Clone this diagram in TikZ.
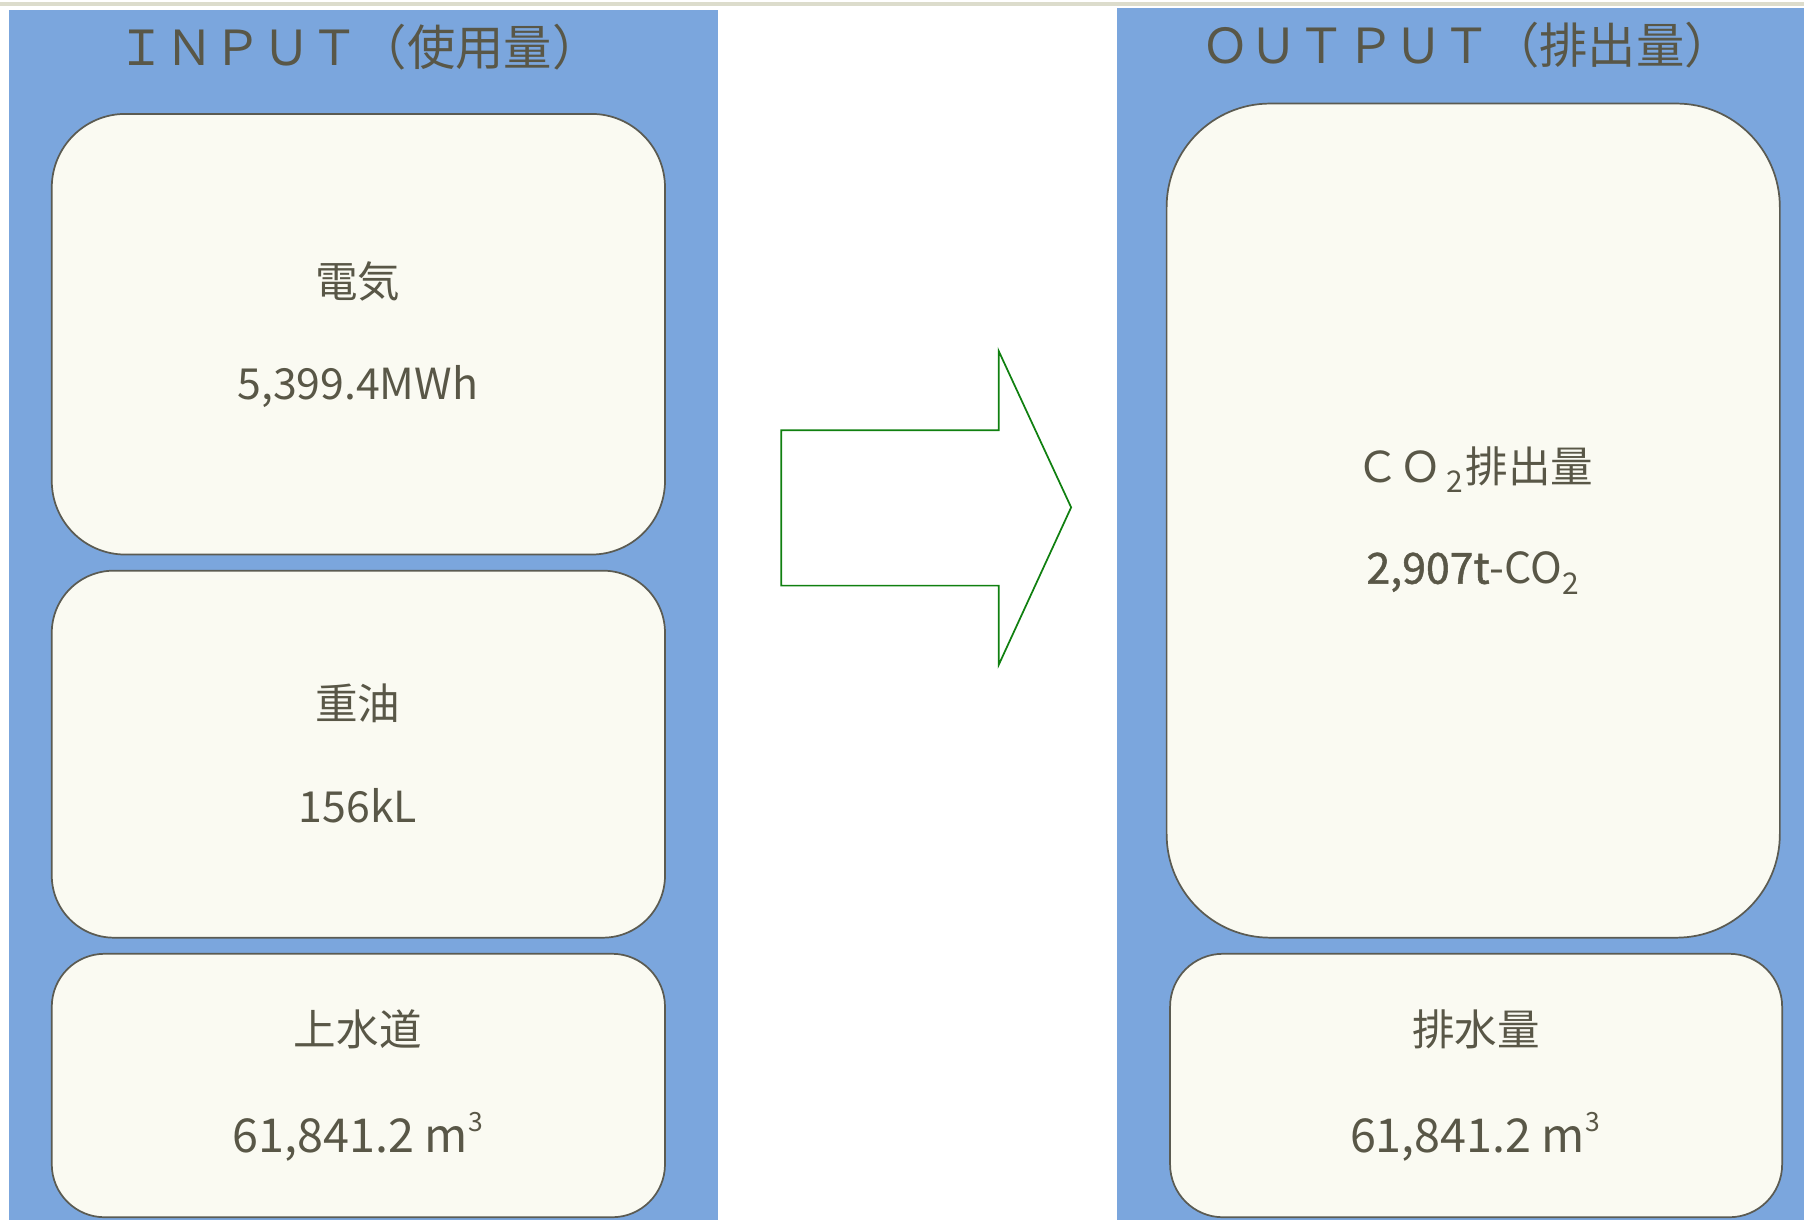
\documentclass[tikz,border=0pt]{standalone}
\usepackage{fontspec}
\setmainfont{Noto Sans CJK JP}
\definecolor{panelblue}{HTML}{7BA6DD}
\definecolor{boxfill}{HTML}{FAFAF2}
\definecolor{boxdraw}{HTML}{5B5B52}
\definecolor{textcol}{HTML}{595747}
\definecolor{arrowgreen}{RGB}{16,128,16}
\definecolor{topgrey}{HTML}{DCDCCC}
\newcommand{\subtwo}{\raisebox{-0.45ex}{\fontsize{13}{13}\selectfont 2}}
\newcommand{\supthree}{\raisebox{0.8ex}{\fontsize{11.5}{12}\selectfont 3}}
\begin{document}
\begin{tikzpicture}[x=0.5pt,y=-0.5pt,
  panel/.style={fill=panelblue},
  card/.style={draw=boxdraw, fill=boxfill, line width=0.75pt, inner sep=0pt},
  title/.style={text=textcol, font=\fontsize{21}{24}\selectfont, inner sep=0pt},
  lbl/.style={text=textcol, font=\fontsize{18.5}{22}\selectfont, inner sep=0pt},
  num/.style={text=textcol, font=\fontsize{18.6}{22}\selectfont, inner sep=0pt},
  bignum/.style={text=textcol, font=\fontsize{20.3}{24}\selectfont, inner sep=0pt},
  bigarrow/.style={draw=arrowgreen, fill=white, line width=0.75pt, line join=miter}
]
\useasboundingbox (0,0) rectangle (1568,1060);
\fill[white] (0,0) rectangle (1568,1060);
\fill[topgrey] (0,1.5) rectangle (1568,5);
% panels
\fill[panel] (8,9) rectangle (624,1060);
\fill[panel] (971,7) rectangle (1568,1060);
% titles
\node[title] (tin) at (312,41) {ＩＮＰＵＴ（使用量）};
\node[title] (tout) at (1275,39) {ＯＵＴＰＵＴ（排出量）};
% left cards
\node[card, rounded corners=32pt, minimum width=266.5pt, minimum height=191.5pt] (c1) at (311.5,290.5) {};
\node[card, rounded corners=27pt, minimum width=266.5pt, minimum height=159.5pt] (c2) at (311.5,655.5) {};
\node[card, rounded corners=23pt, minimum width=266.5pt, minimum height=114.5pt] (c3) at (311.5,943.5) {};
% right cards
\node[card, rounded corners=45pt, minimum width=266.5pt, minimum height=362.5pt] (d1) at (1280.5,452.5) {};
\node[card, rounded corners=23pt, minimum width=266pt, minimum height=114.5pt] (d2) at (1283,943.5) {};
% texts
\node[lbl] (t1) at (311,245) {電気};
\node[num] (n1) at (311,336) {5,399.4MWh};
\node[lbl] (t2) at (311,611) {重油};
\node[num] (n2) at (311,700) {156kL};
\node[lbl] (t3) at (311,895) {上水道};
\node[bignum] (n3) at (311,988) {61,841.2 m\supthree};
\node[lbl] (t4) at (1282,408) {ＣＯ\hspace{2pt}\subtwo\hspace{1pt}排出量};
\node[num] (n4) at (1280,498) {{\addfontfeature{FakeBold=1.2}2,907t}-CO\subtwo};
\node[lbl] (t5) at (1283,895) {排水量};
\node[bignum] (n5) at (1282,988) {61,841.2 m\supthree};
% arrow
\draw[bigarrow] (679,374) -- (868,374) -- (868,305) -- (931,441) -- (868,578) -- (868,509) -- (679,509) -- cycle;
\end{tikzpicture}
\end{document}
